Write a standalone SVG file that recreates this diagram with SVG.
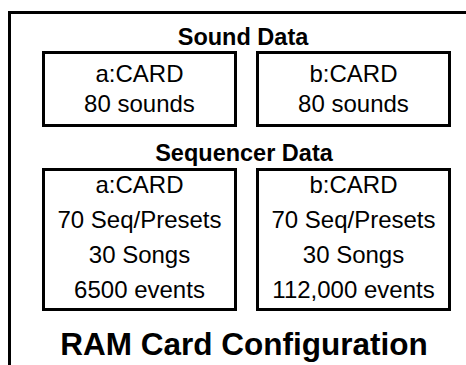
<svg xmlns="http://www.w3.org/2000/svg" width="466" height="365" viewBox="0 0 466 365">
<style>
.box{fill:none;stroke:#000;stroke-width:3}
.frame{fill:none;stroke:#000;stroke-width:3}
.t{font-family:"Liberation Sans",Arial,sans-serif;font-size:24px;fill:#000;text-anchor:middle}
.h{font-family:"Liberation Sans",Arial,sans-serif;font-size:23.5px;font-weight:bold;fill:#000;text-anchor:middle}
.big{font-family:"Liberation Sans",Arial,sans-serif;font-size:31.5px;font-weight:bold;fill:#000;text-anchor:middle}
</style>
<rect width="466" height="365" fill="#fff"/>
<path class="frame" d="M9.5,365 V12.5 H466"/>
<text class="h" x="243" y="45">Sound Data</text>
<g id="sound-a">
<rect class="box" x="43.5" y="52.5" width="192" height="73"/>
<text class="t" x="139.5" y="82">a:CARD</text>
<text class="t" x="139.5" y="112">80 sounds</text>
</g>
<g id="sound-b">
<rect class="box" x="257.5" y="52.5" width="192" height="73"/>
<text class="t" x="353.5" y="82">b:CARD</text>
<text class="t" x="353.5" y="112">80 sounds</text>
</g>
<text class="h" x="244" y="161">Sequencer Data</text>
<g id="seq-a">
<rect class="box" x="43.5" y="169.5" width="192" height="140"/>
<text class="t" x="139.5" y="193">a:CARD</text>
<text class="t" x="139.5" y="228">70 Seq/Presets</text>
<text class="t" x="139.5" y="263">30 Songs</text>
<text class="t" x="139.5" y="298">6500 events</text>
</g>
<g id="seq-b">
<rect class="box" x="257.5" y="169.5" width="192" height="140"/>
<text class="t" x="353.5" y="193">b:CARD</text>
<text class="t" x="353.5" y="228">70 Seq/Presets</text>
<text class="t" x="353.5" y="263">30 Songs</text>
<text class="t" x="353.5" y="298">112,000 events</text>
</g>
<g id="connectors"></g>
<text class="big" x="244" y="355">RAM Card Configuration</text>
</svg>
